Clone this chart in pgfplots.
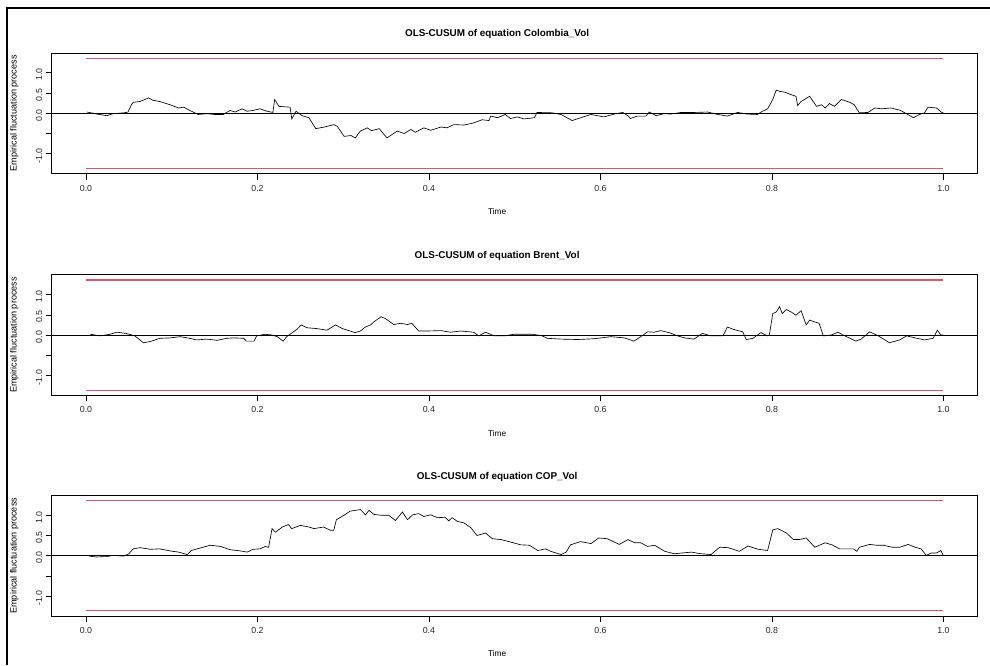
\documentclass[border=0pt]{standalone}
\usepackage{pgfplots}
\pgfplotsset{compat=1.18}
\usepackage{fontspec}
\setmainfont{Liberation Sans}
\definecolor{rred}{HTML}{DF536B}

\pgfplotstableread{
t v
0.001 0.03
0.006 0.01
0.013 -0.02
0.024 -0.06
0.032 -0.01
0.044 0.01
0.049 0.03
0.053 0.21
0.055 0.27
0.063 0.29
0.073 0.38
0.078 0.32
0.086 0.29
0.098 0.21
0.108 0.13
0.114 0.15
0.121 0.07
0.131 -0.03
0.141 -0.01
0.150 -0.03
0.160 -0.03
0.168 0.07
0.174 0.03
0.182 0.11
0.188 0.05
0.195 0.07
0.203 0.11
0.211 0.05
0.218 0.02
0.220 0.34
0.225 0.17
0.238 0.15
0.240 -0.14
0.245 0.05
0.252 -0.06
0.260 -0.11
0.268 -0.38
0.278 -0.34
0.289 -0.28
0.293 -0.32
0.301 -0.57
0.309 -0.55
0.314 -0.61
0.320 -0.44
0.328 -0.36
0.333 -0.43
0.342 -0.38
0.351 -0.61
0.363 -0.44
0.371 -0.50
0.379 -0.40
0.384 -0.47
0.394 -0.36
0.402 -0.42
0.414 -0.34
0.421 -0.36
0.429 -0.28
0.441 -0.29
0.452 -0.24
0.462 -0.16
0.470 -0.18
0.472 -0.07
0.480 -0.11
0.489 -0.03
0.495 -0.13
0.503 -0.09
0.511 -0.14
0.523 -0.11
0.526 0.02
0.544 0.01
0.554 -0.03
0.567 -0.18
0.577 -0.11
0.589 -0.03
0.604 -0.09
0.616 -0.02
0.626 0.02
0.632 -0.06
0.635 -0.13
0.643 -0.07
0.653 -0.07
0.657 0.03
0.665 -0.06
0.674 -0.01
0.682 -0.02
0.694 0.02
0.710 0.02
0.725 0.03
0.737 -0.03
0.748 -0.07
0.760 0.02
0.771 -0.02
0.783 -0.03
0.789 0.05
0.795 0.11
0.801 0.34
0.805 0.57
0.809 0.54
0.815 0.52
0.822 0.46
0.828 0.42
0.830 0.19
0.834 0.29
0.844 0.42
0.852 0.17
0.858 0.21
0.862 0.13
0.867 0.24
0.873 0.17
0.881 0.34
0.891 0.27
0.896 0.21
0.902 0.01
0.912 0.02
0.920 0.13
0.928 0.11
0.939 0.13
0.950 0.07
0.965 -0.11
0.972 -0.03
0.978 0.01
0.982 0.15
0.992 0.13
0.998 0.02
1.000 0.01
}\colombia

\pgfplotstableread{
t v
0.005 0.02
0.017 -0.02
0.028 0.02
0.036 0.07
0.047 0.04
0.057 -0.02
0.067 -0.19
0.075 -0.16
0.086 -0.08
0.098 -0.07
0.110 -0.04
0.121 -0.08
0.129 -0.12
0.141 -0.10
0.153 -0.13
0.164 -0.08
0.172 -0.07
0.184 -0.08
0.187 -0.15
0.196 -0.15
0.199 -0.02
0.209 0.02
0.217 0.00
0.223 -0.04
0.230 -0.15
0.234 -0.04
0.238 0.02
0.246 0.14
0.251 0.25
0.258 0.18
0.269 0.16
0.281 0.12
0.291 0.25
0.299 0.16
0.314 0.06
0.320 0.10
0.326 0.20
0.332 0.25
0.336 0.33
0.344 0.45
0.349 0.41
0.359 0.26
0.367 0.29
0.375 0.26
0.380 0.29
0.388 0.10
0.398 0.10
0.414 0.11
0.425 0.07
0.437 0.10
0.452 0.07
0.458 -0.02
0.466 0.07
0.476 -0.02
0.488 -0.02
0.499 0.02
0.521 0.02
0.532 -0.02
0.538 -0.08
0.554 -0.10
0.573 -0.11
0.593 -0.09
0.612 -0.04
0.628 -0.07
0.639 -0.15
0.647 -0.04
0.655 0.08
0.663 0.07
0.670 0.11
0.680 0.06
0.690 -0.02
0.698 -0.07
0.709 -0.10
0.719 0.04
0.729 -0.02
0.743 -0.02
0.748 0.20
0.755 0.14
0.766 0.08
0.770 -0.11
0.778 -0.08
0.787 0.06
0.795 -0.02
0.797 0.00
0.801 0.53
0.805 0.57
0.809 0.70
0.812 0.53
0.817 0.63
0.824 0.55
0.828 0.49
0.834 0.60
0.840 0.25
0.844 0.37
0.849 0.33
0.855 0.29
0.860 -0.02
0.869 0.00
0.877 0.07
0.885 -0.02
0.898 -0.15
0.904 -0.10
0.914 0.08
0.924 -0.02
0.937 -0.19
0.949 -0.12
0.957 -0.02
0.967 -0.07
0.978 -0.12
0.988 -0.08
0.993 0.12
0.997 0.00
1.000 0.00
}\brent

\pgfplotstableread{
t v
0.004 -0.01
0.012 -0.03
0.024 -0.02
0.032 0.01
0.044 -0.01
0.050 0.05
0.055 0.17
0.063 0.20
0.075 0.16
0.086 0.17
0.098 0.12
0.108 0.09
0.118 0.03
0.123 0.13
0.133 0.19
0.145 0.26
0.157 0.23
0.168 0.15
0.180 0.12
0.188 0.09
0.195 0.16
0.203 0.17
0.209 0.23
0.213 0.21
0.217 0.67
0.221 0.58
0.229 0.71
0.236 0.77
0.240 0.67
0.250 0.75
0.260 0.71
0.266 0.67
0.277 0.71
0.285 0.63
0.289 0.63
0.292 0.89
0.301 1.00
0.308 1.10
0.320 1.14
0.326 1.01
0.330 1.12
0.336 1.02
0.344 1.00
0.353 1.00
0.361 0.87
0.369 1.08
0.375 0.89
0.381 1.01
0.388 1.04
0.394 0.97
0.402 1.01
0.410 0.94
0.419 0.95
0.423 0.86
0.427 0.94
0.433 0.85
0.441 0.81
0.449 0.69
0.456 0.50
0.466 0.56
0.474 0.42
0.484 0.40
0.495 0.34
0.507 0.27
0.517 0.26
0.527 0.13
0.536 0.17
0.542 0.11
0.554 0.03
0.560 0.09
0.565 0.27
0.577 0.35
0.589 0.30
0.598 0.44
0.608 0.42
0.622 0.28
0.632 0.40
0.640 0.32
0.647 0.32
0.655 0.23
0.663 0.26
0.675 0.11
0.686 0.05
0.706 0.09
0.717 0.05
0.729 0.03
0.739 0.21
0.749 0.20
0.762 0.11
0.772 0.24
0.784 0.16
0.795 0.13
0.801 0.64
0.807 0.67
0.817 0.56
0.825 0.40
0.832 0.40
0.840 0.44
0.850 0.21
0.862 0.32
0.870 0.27
0.879 0.17
0.895 0.17
0.899 0.11
0.902 0.21
0.914 0.28
0.922 0.26
0.930 0.26
0.940 0.21
0.949 0.21
0.959 0.28
0.967 0.21
0.974 0.17
0.980 0.01
0.986 0.07
0.992 0.07
0.997 0.13
1.000 0.00
}\cop

\pgfplotsset{
  cusum/.style={
    scale only axis, width=926pt, height=120.5pt, anchor=north west,
    xmin=-0.04, xmax=1.04, ymin=-1.487, ymax=1.487,
    axis line style={line width=0.8pt},
    tick align=outside, major tick length=6pt, tick style={black, line width=0.6pt},
    xtick pos=bottom, ytick pos=left,
    xtick={0,0.2,0.4,0.6,0.8,1.0},
    xticklabels={0.0,0.2,0.4,0.6,0.8,1.0},
    ytick={-1,-0.5,0,0.5,1},
    yticklabels={-1.0,{},0.0,0.5,1.0},
    /pgf/number format/assume math mode=true,
    ticklabel style={font=\fontsize{8.8}{10}\selectfont, text=black!85},
    xticklabel style={yshift=-2pt},
    yticklabel style={rotate=90, anchor=south, xshift=-2pt},
    xlabel={Time},
    xlabel style={at={(axis description cs:0.481,0)}, anchor=center, yshift=-38pt, font=\fontsize{8.3}{10}\selectfont},
    ylabel={Empirical fluctuation process},
    ylabel style={at={(axis description cs:0,0.5)}, anchor=center, yshift=37.5pt, font=\fontsize{9.1}{10}\selectfont},
    title style={at={(axis description cs:0.481,1)}, anchor=center, yshift=13pt, font=\bfseries\fontsize{9.9}{11}\selectfont},
    clip=false,
  },
  bound/.style={rred, line width=1.1pt},
}

\begin{document}
\begin{tikzpicture}
\path[use as bounding box] (0pt,0pt) rectangle (990pt,-665pt);
\draw[line width=2pt] (6.7pt,-665pt) -- (6.7pt,-8pt) -- (990pt,-8pt);

\begin{axis}[cusum, at={(51.7pt,-53pt)}, title={OLS-CUSUM of equation Colombia\_Vol}]
\addplot[bound] coordinates {(0,1.358) (1,1.358)};
\addplot[bound] coordinates {(0,-1.358) (1,-1.358)};
\addplot[black, line width=0.75pt] coordinates {(-0.04,0) (1.04,0)};
\addplot[black, line width=0.65pt] table[x=t, y=v] {\colombia};
\end{axis}

\begin{axis}[cusum, at={(51.7pt,-274.8pt)}, title={OLS-CUSUM of equation Brent\_Vol}]
\addplot[bound] coordinates {(0,1.358) (1,1.358)};
\addplot[bound] coordinates {(0,-1.358) (1,-1.358)};
\addplot[black, line width=0.75pt] coordinates {(-0.04,0) (1.04,0)};
\addplot[black, line width=0.65pt] table[x=t, y=v] {\brent};
\end{axis}

\begin{axis}[cusum, at={(51.7pt,-495.5pt)}, title={OLS-CUSUM of equation COP\_Vol}]
\addplot[bound] coordinates {(0,1.358) (1,1.358)};
\addplot[bound] coordinates {(0,-1.358) (1,-1.358)};
\addplot[black, line width=0.75pt] coordinates {(-0.04,0) (1.04,0)};
\addplot[black, line width=0.65pt] table[x=t, y=v] {\cop};
\end{axis}
\end{tikzpicture}
\end{document}
